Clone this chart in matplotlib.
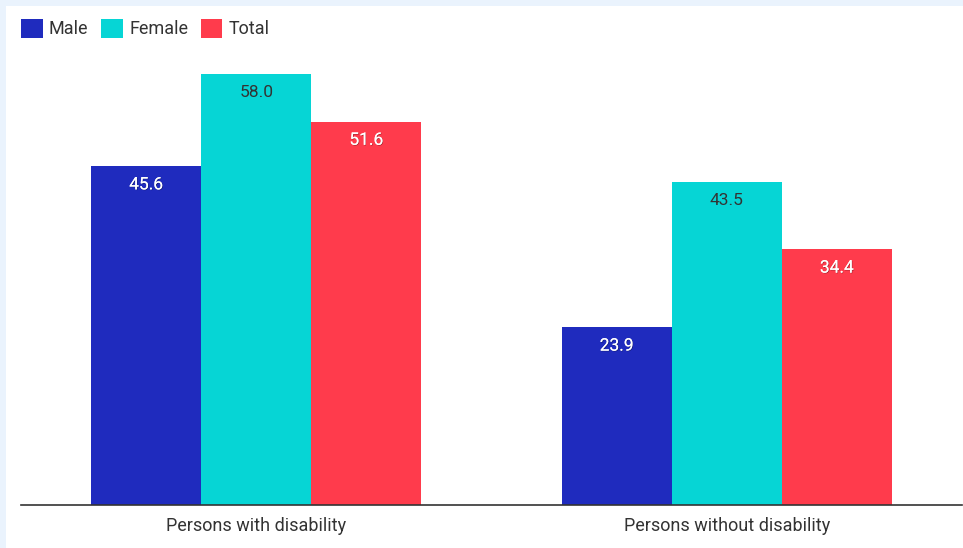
import matplotlib.pyplot as plt
from matplotlib.patches import Rectangle
import matplotlib.patheffects as pe
import numpy as np

plt.rcParams['font.family'] = ['Roboto', 'DejaVu Sans']

groups = ["Persons with disability", "Persons without disability"]
series = ["Male", "Female", "Total"]
male = [45.6, 23.9]
female = [58.0, 43.5]
total = [51.6, 34.4]

colors = ["#1F2BBE", "#06D5D5", "#FF3B4C"]
label_colors = ["white", "#333333", "white"]

W, H = 963, 548
fig = plt.figure(figsize=(W / 100, H / 100), dpi=100, facecolor="#EAF3FD")
# white card inside the light border
fig.patches.append(Rectangle((6 / W, 0), 1 - 6 / W, 1 - 6 / H,
                             transform=fig.transFigure, facecolor="white",
                             edgecolor="none", zorder=-5))

ax = fig.add_axes([21 / W, (H - 505) / H, (962 - 21) / W, (505 - 60) / H])
ax.set_facecolor("none")

x = np.arange(len(groups))
bw = 0.234
for i, (vals, c, lc) in enumerate(zip([male, female, total], colors, label_colors)):
    pos = x + (i - 1) * bw
    bars = ax.bar(pos, vals, width=bw, color=c, label=series[i], zorder=2)
    for b, v in zip(bars, vals):
        t = ax.annotate(f"{v:.1f}", (b.get_x() + b.get_width() / 2, v),
                        xytext=(0, -13.5), textcoords="offset points",
                        ha="center", va="center", fontsize=12.5, color=lc, zorder=3)
        if lc == "white":
            t.set_path_effects([pe.withSimplePatchShadow(offset=(0.5, -0.5),
                                                         shadow_rgbFace="black", alpha=0.35),
                                pe.Normal()])

ax.set_xlim(-0.5, 1.5)
ax.set_ylim(0, 445 / (431 / 58.0))
ax.set_xticks(x)
ax.set_xticklabels(groups, fontsize=13, color="#333333")
ax.tick_params(axis="x", length=0, pad=8.5)
ax.set_yticks([])
for s in ["top", "right", "left"]:
    ax.spines[s].set_visible(False)
ax.spines["bottom"].set_color("#333333")
ax.spines["bottom"].set_linewidth(1.2)

ax.legend(loc="upper left", bbox_to_anchor=(21 / W, 1 - 19 / H),
          bbox_transform=fig.transFigure, ncol=3, frameon=False,
          borderpad=0, borderaxespad=0,
          handlelength=1.2, handleheight=1.2, handletextpad=0.35,
          columnspacing=0.7, fontsize=13, labelcolor="#333333")

fig.savefig("out.png", dpi=100, facecolor=fig.get_facecolor())
